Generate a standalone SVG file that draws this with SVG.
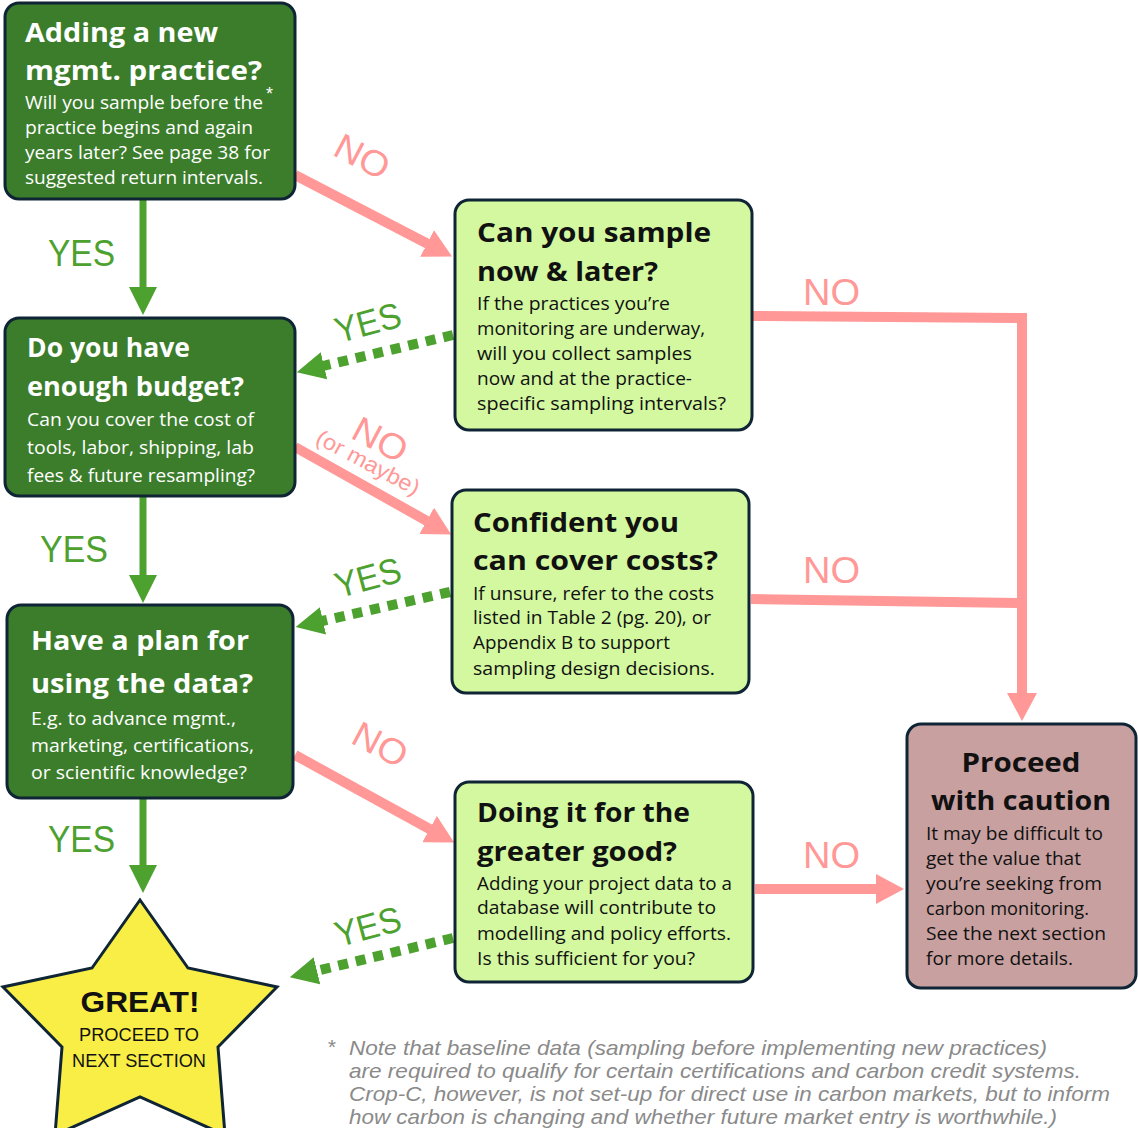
<svg xmlns="http://www.w3.org/2000/svg" width="1138" height="1128" viewBox="0 0 1138 1128">
  <style>
    .box { stroke: #0f2535; stroke-width: 3; }
    .dark { fill: #3b7d2b; }
    .light { fill: #d3f8a0; }
    .caution { fill: #c8a0a0; }
    .t { font-family: "Open Sans", "Liberation Sans", sans-serif; font-weight: 700; font-size: 27px; }
    .b { font-family: "Open Sans", "Liberation Sans", sans-serif; font-size: 18px; }
    .w { fill: #ffffff; }
    .k { fill: #111111; }
    .pink { stroke: #ff9896; stroke-width: 10; fill: none; }
    .gsolid { stroke: #4da12f; stroke-width: 7; fill: none; }
    .gdot { stroke: #4da12f; stroke-width: 10; fill: none; stroke-dasharray: 10 8; }
    .lbl { font-family: "Liberation Sans", Arial, sans-serif; font-size: 36px; }
    .no { fill: #ff9896; }
    .yes { fill: #4da12f; }
    .note { font-family: "Liberation Sans", Arial, sans-serif; font-style: italic; font-size: 21px; fill: #8a8a8a; }
  </style>
  <defs>
    <marker id="headPink" markerUnits="userSpaceOnUse" viewBox="0 0 28 30" refX="1" refY="15" markerWidth="28" markerHeight="30" orient="auto">
      <path d="M0,0 L28,15 L0,30 z" fill="#ff9896"/>
    </marker>
    <marker id="headGreen" markerUnits="userSpaceOnUse" viewBox="0 0 28 28" refX="1" refY="14" markerWidth="28" markerHeight="28" orient="auto">
      <path d="M0,0 L28,14 L0,28 z" fill="#4da12f"/>
    </marker>
  </defs>

  <rect width="1138" height="1128" fill="#ffffff"/>

  <!-- connectors -->
  <g id="connectors">
    <!-- YES (solid, downward) -->
    <line class="gsolid" x1="143" y1="199" x2="143" y2="288" marker-end="url(#headGreen)"/>
    <line class="gsolid" x1="143" y1="497" x2="143" y2="576" marker-end="url(#headGreen)"/>
    <line class="gsolid" x1="143" y1="799" x2="143" y2="866" marker-end="url(#headGreen)"/>
    <!-- NO (diagonal, to the right) -->
    <line class="pink" x1="295" y1="175" x2="428" y2="244" marker-end="url(#headPink)"/>
    <line class="pink" x1="295" y1="447" x2="427.6" y2="521.3" marker-end="url(#headPink)"/>
    <line class="pink" x1="295" y1="755" x2="430.5" y2="829.5" marker-end="url(#headPink)"/>
    <!-- YES (dotted, back to the left) -->
    <line class="gdot" x1="453" y1="335" x2="323" y2="366" marker-end="url(#headGreen)"/>
    <line class="gdot" x1="450" y1="592" x2="322" y2="621" marker-end="url(#headGreen)"/>
    <line class="gdot" x1="453" y1="938" x2="316" y2="971" marker-end="url(#headGreen)"/>
    <!-- NO to "Proceed with caution" -->
    <polyline class="pink" points="753,316 1022,318 1022,694" stroke-linejoin="miter" marker-end="url(#headPink)"/>
    <line class="pink" x1="751" y1="599" x2="1022" y2="603"/>
    <line class="pink" x1="755" y1="889" x2="877" y2="889" marker-end="url(#headPink)"/>

    <!-- connector labels -->
    <text class="lbl yes" x="48" y="266" textLength="67" lengthAdjust="spacingAndGlyphs">YES</text>
    <text class="lbl yes" x="40" y="562" textLength="68" lengthAdjust="spacingAndGlyphs">YES</text>
    <text class="lbl yes" x="48" y="852" textLength="67" lengthAdjust="spacingAndGlyphs">YES</text>
    <text class="lbl no" x="803" y="305" textLength="57" lengthAdjust="spacingAndGlyphs">NO</text>
    <text class="lbl no" x="803" y="583" textLength="57" lengthAdjust="spacingAndGlyphs">NO</text>
    <text class="lbl no" x="803" y="868" textLength="57" lengthAdjust="spacingAndGlyphs">NO</text>
    <g transform="translate(362,157) rotate(28)"><text class="lbl no" x="0" y="12" text-anchor="middle" textLength="57" lengthAdjust="spacingAndGlyphs">NO</text></g>
    <g transform="translate(380,745) rotate(28)"><text class="lbl no" x="0" y="12" text-anchor="middle" textLength="57" lengthAdjust="spacingAndGlyphs">NO</text></g>
    <g transform="translate(380,440) rotate(28)">
      <text class="lbl no" x="0" y="12" text-anchor="middle" textLength="57" lengthAdjust="spacingAndGlyphs">NO</text>
      <text class="no" x="0" y="33" text-anchor="middle" font-family="Liberation Sans, Arial, sans-serif" font-size="22" textLength="114" lengthAdjust="spacingAndGlyphs">(or maybe)</text>
    </g>
    <g transform="translate(368,323) rotate(-15)"><text class="lbl yes" x="0" y="12" text-anchor="middle" textLength="67" lengthAdjust="spacingAndGlyphs">YES</text></g>
    <g transform="translate(368,578) rotate(-15)"><text class="lbl yes" x="0" y="12" text-anchor="middle" textLength="67" lengthAdjust="spacingAndGlyphs">YES</text></g>
    <g transform="translate(368,927) rotate(-15)"><text class="lbl yes" x="0" y="12" text-anchor="middle" textLength="67" lengthAdjust="spacingAndGlyphs">YES</text></g>
  </g>

  <!-- Adding a new mgmt. practice? -->
  <g id="new-practice">
    <rect class="box dark" x="5" y="3" width="290" height="196" rx="14"/>
    <text class="t w" x="25" y="42" textLength="193" lengthAdjust="spacingAndGlyphs">Adding a new</text>
    <text class="t w" x="25" y="80" textLength="237" lengthAdjust="spacingAndGlyphs">mgmt. practice?</text>
    <text class="w" x="266" y="100" font-family="Liberation Sans, Arial, sans-serif" font-size="18">*</text>
    <text class="b w" x="25" y="109" textLength="238" lengthAdjust="spacingAndGlyphs">Will you sample before the</text>
    <text class="b w" x="25" y="134" textLength="228" lengthAdjust="spacingAndGlyphs">practice begins and again</text>
    <text class="b w" x="25" y="159" textLength="245" lengthAdjust="spacingAndGlyphs">years later? See page 38 for</text>
    <text class="b w" x="25" y="184" textLength="238" lengthAdjust="spacingAndGlyphs">suggested return intervals.</text>
  </g>

  <!-- Can you sample now & later? -->
  <g id="sample-now-later">
    <rect class="box light" x="455" y="200" width="297" height="230" rx="14"/>
    <text class="t k" x="477" y="242" textLength="234" lengthAdjust="spacingAndGlyphs">Can you sample</text>
    <text class="t k" x="477" y="281" textLength="181" lengthAdjust="spacingAndGlyphs">now &amp; later?</text>
    <text class="b k" x="477" y="310" textLength="193" lengthAdjust="spacingAndGlyphs">If the practices you’re</text>
    <text class="b k" x="477" y="335" textLength="228" lengthAdjust="spacingAndGlyphs">monitoring are underway,</text>
    <text class="b k" x="477" y="360" textLength="215" lengthAdjust="spacingAndGlyphs">will you collect samples</text>
    <text class="b k" x="477" y="385" textLength="215" lengthAdjust="spacingAndGlyphs">now and at the practice-</text>
    <text class="b k" x="477" y="410" textLength="249" lengthAdjust="spacingAndGlyphs">specific sampling intervals?</text>
  </g>

  <!-- Do you have enough budget? -->
  <g id="budget">
    <rect class="box dark" x="5" y="318" width="290" height="178" rx="14"/>
    <text class="t w" x="27" y="357" textLength="163" lengthAdjust="spacingAndGlyphs">Do you have</text>
    <text class="t w" x="27" y="396" textLength="217" lengthAdjust="spacingAndGlyphs">enough budget?</text>
    <text class="b w" x="27" y="426" textLength="227" lengthAdjust="spacingAndGlyphs">Can you cover the cost of</text>
    <text class="b w" x="27" y="454" textLength="227" lengthAdjust="spacingAndGlyphs">tools, labor, shipping, lab</text>
    <text class="b w" x="27" y="482" textLength="228" lengthAdjust="spacingAndGlyphs">fees &amp; future resampling?</text>
  </g>

  <!-- Confident you can cover costs? -->
  <g id="cover-costs">
    <rect class="box light" x="452" y="490" width="297" height="203" rx="14"/>
    <text class="t k" x="473" y="532" textLength="206" lengthAdjust="spacingAndGlyphs">Confident you</text>
    <text class="t k" x="473" y="570" textLength="245" lengthAdjust="spacingAndGlyphs">can cover costs?</text>
    <text class="b k" x="473" y="600" textLength="241" lengthAdjust="spacingAndGlyphs">If unsure, refer to the costs</text>
    <text class="b k" x="473" y="624" textLength="238" lengthAdjust="spacingAndGlyphs">listed in Table 2 (pg. 20), or</text>
    <text class="b k" x="473" y="649" textLength="197" lengthAdjust="spacingAndGlyphs">Appendix B to support</text>
    <text class="b k" x="473" y="675" textLength="242" lengthAdjust="spacingAndGlyphs">sampling design decisions.</text>
  </g>

  <!-- Have a plan for using the data? -->
  <g id="data-plan">
    <rect class="box dark" x="7" y="605" width="286" height="193" rx="14"/>
    <text class="t w" x="31" y="650" textLength="218" lengthAdjust="spacingAndGlyphs">Have a plan for</text>
    <text class="t w" x="31" y="693" textLength="222" lengthAdjust="spacingAndGlyphs">using the data?</text>
    <text class="b w" x="31" y="725" textLength="205" lengthAdjust="spacingAndGlyphs">E.g. to advance mgmt.,</text>
    <text class="b w" x="31" y="752" textLength="223" lengthAdjust="spacingAndGlyphs">marketing, certifications,</text>
    <text class="b w" x="31" y="779" textLength="216" lengthAdjust="spacingAndGlyphs">or scientific knowledge?</text>
  </g>

  <!-- Doing it for the greater good? -->
  <g id="greater-good">
    <rect class="box light" x="455" y="782" width="298" height="200" rx="14"/>
    <text class="t k" x="477" y="822" textLength="213" lengthAdjust="spacingAndGlyphs">Doing it for the</text>
    <text class="t k" x="477" y="861" textLength="200" lengthAdjust="spacingAndGlyphs">greater good?</text>
    <text class="b k" x="477" y="890" textLength="255" lengthAdjust="spacingAndGlyphs">Adding your project data to a</text>
    <text class="b k" x="477" y="914" textLength="239" lengthAdjust="spacingAndGlyphs">database will contribute to</text>
    <text class="b k" x="477" y="940" textLength="254" lengthAdjust="spacingAndGlyphs">modelling and policy efforts.</text>
    <text class="b k" x="477" y="965" textLength="218" lengthAdjust="spacingAndGlyphs">Is this sufficient for you?</text>
  </g>

  <!-- Proceed with caution -->
  <g id="caution">
    <rect class="box caution" x="907" y="724" width="229" height="264" rx="14"/>
    <text class="t k" x="1021" y="772" text-anchor="middle" textLength="119" lengthAdjust="spacingAndGlyphs">Proceed</text>
    <text class="t k" x="1021" y="810" text-anchor="middle" textLength="180" lengthAdjust="spacingAndGlyphs">with caution</text>
    <text class="b k" x="926" y="840" textLength="177" lengthAdjust="spacingAndGlyphs">It may be difficult to</text>
    <text class="b k" x="926" y="865" textLength="155" lengthAdjust="spacingAndGlyphs">get the value that</text>
    <text class="b k" x="926" y="890" textLength="176" lengthAdjust="spacingAndGlyphs">you’re seeking from</text>
    <text class="b k" x="926" y="915" textLength="163" lengthAdjust="spacingAndGlyphs">carbon monitoring.</text>
    <text class="b k" x="926" y="940" textLength="180" lengthAdjust="spacingAndGlyphs">See the next section</text>
    <text class="b k" x="926" y="965" textLength="147" lengthAdjust="spacingAndGlyphs">for more details.</text>
  </g>

  <!-- GREAT! star -->
  <g id="great">
    <polygon points="140,900 188,968 277,987 218,1047 225,1135 140,1097 55,1135 62,1047 3,987 92,968" fill="#f9ee45" stroke="#0f2535" stroke-width="3" stroke-linejoin="miter"/>
    <text class="k" x="140" y="1012" text-anchor="middle" font-family="Liberation Sans, Arial, sans-serif" font-weight="700" font-size="30" textLength="119" lengthAdjust="spacingAndGlyphs">GREAT!</text>
    <text class="k" x="139" y="1041" text-anchor="middle" font-family="Liberation Sans, Arial, sans-serif" font-size="19" textLength="120" lengthAdjust="spacingAndGlyphs">PROCEED TO</text>
    <text class="k" x="139" y="1067" text-anchor="middle" font-family="Liberation Sans, Arial, sans-serif" font-size="19" textLength="134" lengthAdjust="spacingAndGlyphs">NEXT SECTION</text>
  </g>

  <!-- footnote -->
  <g id="footnote">
    <text class="note" x="327" y="1054" font-style="normal">*</text>
    <text class="note" x="349" y="1055" textLength="698" lengthAdjust="spacingAndGlyphs">Note that baseline data (sampling before implementing new practices)</text>
    <text class="note" x="349" y="1078" textLength="732" lengthAdjust="spacingAndGlyphs">are required to qualify for certain certifications and carbon credit systems.</text>
    <text class="note" x="349" y="1101" textLength="761" lengthAdjust="spacingAndGlyphs">Crop-C, however, is not set-up for direct use in carbon markets, but to inform</text>
    <text class="note" x="349" y="1124" textLength="708" lengthAdjust="spacingAndGlyphs">how carbon is changing and whether future market entry is worthwhile.)</text>
  </g>
</svg>
